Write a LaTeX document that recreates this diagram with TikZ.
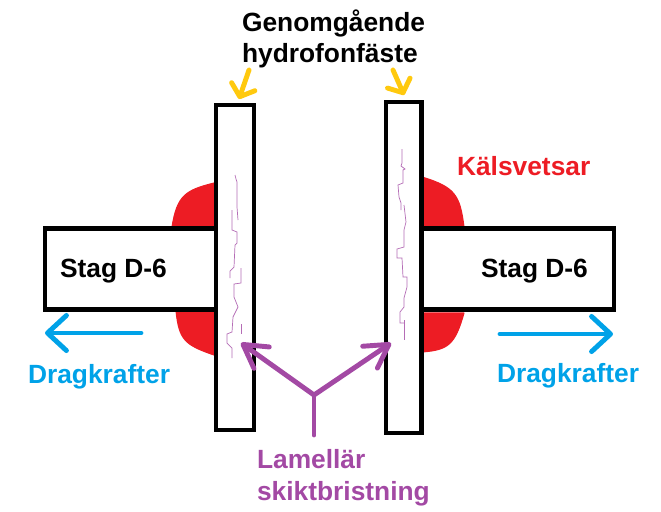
\documentclass[tikz,border=0pt]{standalone}
\usepackage{xcolor}
\usepackage{fontspec}
\setmainfont{Liberation Sans}
\usetikzlibrary{arrows.meta}
\definecolor{weldred}{HTML}{ED1C24}
\definecolor{forceblue}{HTML}{00A2E8}
\definecolor{crackpurple}{HTML}{A349A4}
\definecolor{markyellow}{HTML}{FFC90E}

\begin{document}
\begin{tikzpicture}[x=0.02cm, y=0.02cm]
	\tikzstyle{every node}+=[inner sep=0pt, outer sep=0pt]
	\tikzstyle{plate}=[draw=black, fill=white, line width=2.4pt, rectangle]
	\tikzstyle{stag}=[plate]
	\tikzstyle{txt}=[anchor=base west, font=\fontsize{15}{17}\selectfont\bfseries]
	\tikzstyle{weld}=[fill=weldred, draw=weldred, line width=0.6pt, line join=round]
	\tikzstyle{crack}=[draw=crackpurple!80, line width=0.4pt]
	\tikzstyle{yellowarrow}=[draw=markyellow, line width=2.8pt, line cap=round, -{Straight Barb[round, length=6pt, width=14pt]}]
	\tikzstyle{bluearrow}=[draw=forceblue, line width=2.8pt, line cap=round, -{Straight Barb[round, length=10.8pt, width=20pt]}]
	\tikzstyle{purplearrow}=[draw=crackpurple, line width=2.8pt, line cap=round, -{Straight Barb[round, length=13pt, width=15pt]}]
	\useasboundingbox (0,0) rectangle (661,-511);

	% welds
	\fill [weld] (214,-183) .. controls (186,-190) and (177,-195) .. (172,-227) -- (214,-227) -- cycle;
	\fill [weld] (176,-311) .. controls (179,-340) and (185,-345) .. (214,-355) -- (214,-311) -- cycle;
	\fill [weld] (422,-177) .. controls (455,-187) and (460,-195) .. (464,-227) -- (422,-227) -- cycle;
	\fill [weld] (464,-313) .. controls (455,-345) and (448,-350) .. (422,-352) -- (422,-313) -- cycle;

	% stag and plates
	\node [stag, minimum width=3.42cm, minimum height=1.62cm] (stagleft) at (130.5,-269) {};
	\node [stag, minimum width=3.85cm, minimum height=1.62cm] (stagright) at (517.5,-269) {};
	\node [plate, minimum width=0.76cm, minimum height=6.51cm] (plateleft) at (235,-267.5) {};
	\node [plate, minimum width=0.71cm, minimum height=6.62cm] (plateright) at (403.7,-267.5) {};

	% cracks
	\draw [crack] (235,-175) -- (236,-179) -- (237,-182) -- (237,-207) -- (238,-220);
	\draw [crack] (232,-210) -- (232,-230) -- (237,-232) -- (237,-243) -- (235,-245) -- (234,-267) -- (230,-271) -- (230,-278);
	\draw [crack] (241,-268) -- (241,-283) -- (234,-284) -- (234,-297) -- (238,-307) -- (233,-317) -- (232,-332) -- (227,-334) -- (227,-343) -- (232,-348) -- (232,-358);
	\draw [crack] (241,-324) -- (241,-334);
	\draw [crack] (402,-149) -- (402,-163) -- (401,-166) -- (405,-169) -- (403,-170) -- (403,-183) -- (398,-185) -- (399,-197) -- (401,-203) -- (401,-210);
	\draw [crack] (404,-205) -- (406,-222) -- (404,-230) -- (404,-247) -- (397,-249) -- (397,-258) -- (402,-258) -- (403,-277) -- (407,-277) -- (407,-287) -- (404,-298) -- (404,-307) -- (400,-312) -- (400,-323) -- (404,-323);
	\draw [crack] (404,-320) -- (404,-340);

	% labels
	\node [txt] (genomgaende) at (242,-31) {Genomgående};
	\node [txt] (hydrofon) at (242,-62) {hydrofonfäste};
	\node [txt, text=weldred] (kalsvetsar) at (457,-175) {Kälsvetsar};
	\node [txt] (stagtextleft) at (60,-277) {Stag D-6};
	\node [txt] (stagtextright) at (481,-277) {Stag D-6};
	\node [txt, text=forceblue] (dragleft) at (28,-383) {Dragkrafter};
	\node [txt, text=forceblue] (dragright) at (497,-382) {Dragkrafter};
	\node [txt, text=crackpurple] (lamellar) at (257,-468) {Lamellär};
	\node [txt, text=crackpurple] (skikt) at (257,-500) {skiktbristning};

	% arrows
	\coordinate (yellowstartleft) at (249,-70);
	\coordinate (yellowtipleft) at (239,-99);
	\coordinate (yellowstartright) at (393,-70);
	\coordinate (yellowtipright) at (404,-95);
	\draw [yellowarrow] (yellowstartleft) -- (yellowtipleft);
	\draw [yellowarrow] (yellowstartright) -- (yellowtipright);

	\coordinate (bluestartleft) at (141,-333);
	\coordinate (bluetipleft) at (45,-333);
	\coordinate (bluestartright) at (500,-334);
	\coordinate (bluetipright) at (613,-334);
	\draw [bluearrow] (bluestartleft) -- (bluetipleft);
	\draw [bluearrow] (bluestartright) -- (bluetipright);

	\coordinate (stemfoot) at (314,-435);
	\coordinate (stemjoin) at (314,-395);
	\coordinate (purpletipleft) at (241,-343);
	\coordinate (purpletipright) at (391,-343);
	\draw [crackpurple, line width=2.8pt, line cap=round] (stemfoot) -- (stemjoin);
	\draw [purplearrow] (stemjoin) -- (purpletipleft);
	\draw [purplearrow] (stemjoin) -- (purpletipright);
\end{tikzpicture}
\end{document}
